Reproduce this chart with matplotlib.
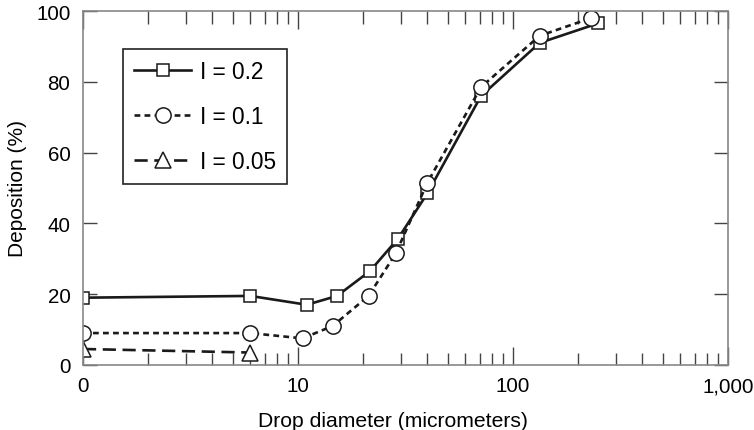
import numpy as np
import matplotlib.pyplot as plt
from matplotlib.ticker import FixedLocator, LogLocator, NullFormatter

plt.rcParams['font.family'] = ['Liberation Sans', 'DejaVu Sans']

# drop diameter (micrometers) and deposition (%)
d_02 = [1, 6, 11, 15.2, 21.6, 29.2, 40, 71, 133, 248]
dep_02 = [19, 19.5, 17, 19.5, 26.5, 35.7, 48.5, 76, 91, 96.5]

d_01 = [1, 6, 10.5, 14.5, 21.3, 28.5, 40, 71, 133, 230]
dep_01 = [9, 9, 7.5, 11, 19.5, 31.5, 51.5, 78.5, 93, 98]

d_005 = [1, 6]
dep_005 = [4.5, 3.5]

xticks = [1, 10, 100, 1000]
xticklabels = ["0", "10", "100", "1,000"]
yticks = [0, 20, 40, 60, 80, 100]

fig = plt.figure(figsize=(7.54, 4.31), dpi=100)
ax = fig.add_axes([0.110, 0.151, 0.8555, 0.821])

lc = "#1a1a1a"
ax.plot(d_02, dep_02, color=lc, linewidth=1.9, marker="s", markersize=9,
        markerfacecolor="white", markeredgecolor=lc, markeredgewidth=1.1,
        label="I = 0.2")
ax.plot(d_01, dep_01, color=lc, linewidth=1.9, linestyle=(0, (2.2, 1.6)),
        marker="o", markersize=11, markerfacecolor="white",
        markeredgecolor=lc, markeredgewidth=1.1, label="I = 0.1")
ax.plot(d_005, dep_005, color=lc, linewidth=1.9, linestyle=(0, (5, 2.5)),
        marker="^", markersize=11, markerfacecolor="white",
        markeredgecolor=lc, markeredgewidth=1.1, label="I = 0.05")

ax.set_xscale("log")
ax.set_xlim(1, 1000)
ax.set_ylim(0, 100)

ax.xaxis.set_major_locator(FixedLocator(xticks))
ax.set_xticklabels(xticklabels)
ax.xaxis.set_minor_locator(LogLocator(base=10, subs=np.arange(2, 10)))
ax.xaxis.set_minor_formatter(NullFormatter())
ax.set_yticks(yticks)

ax.tick_params(axis="both", which="major", direction="in", top=True,
               right=True, labelsize=14.8, length=13, width=1.0,
               color="#444444")
ax.tick_params(axis="x", which="major", pad=8)
ax.tick_params(axis="y", which="major", pad=9, length=10)
ax.tick_params(axis="x", which="minor", direction="in", top=True,
               length=9, width=1.0, color="#444444")

for s in ax.spines.values():
    s.set_color("#888888")
    s.set_linewidth(1.2)

ax.set_xlabel("Drop diameter (micrometers)", fontsize=15.2)
ax.xaxis.set_label_coords(0.481, -0.13)
ax.set_ylabel("Deposition (%)", fontsize=15)
ax.yaxis.set_label_coords(-0.087, 0.5)

leg = ax.legend(loc="upper left", bbox_to_anchor=(0.062, 0.893),
                borderaxespad=0, fontsize=16.3, handlelength=2.5,
                handletextpad=0.39, labelspacing=0.97, fancybox=False,
                framealpha=1, borderpad=0.5)
leg.get_frame().set_edgecolor("#222222")
leg.get_frame().set_linewidth(1.2)

fig.savefig("out.png", dpi=100)
